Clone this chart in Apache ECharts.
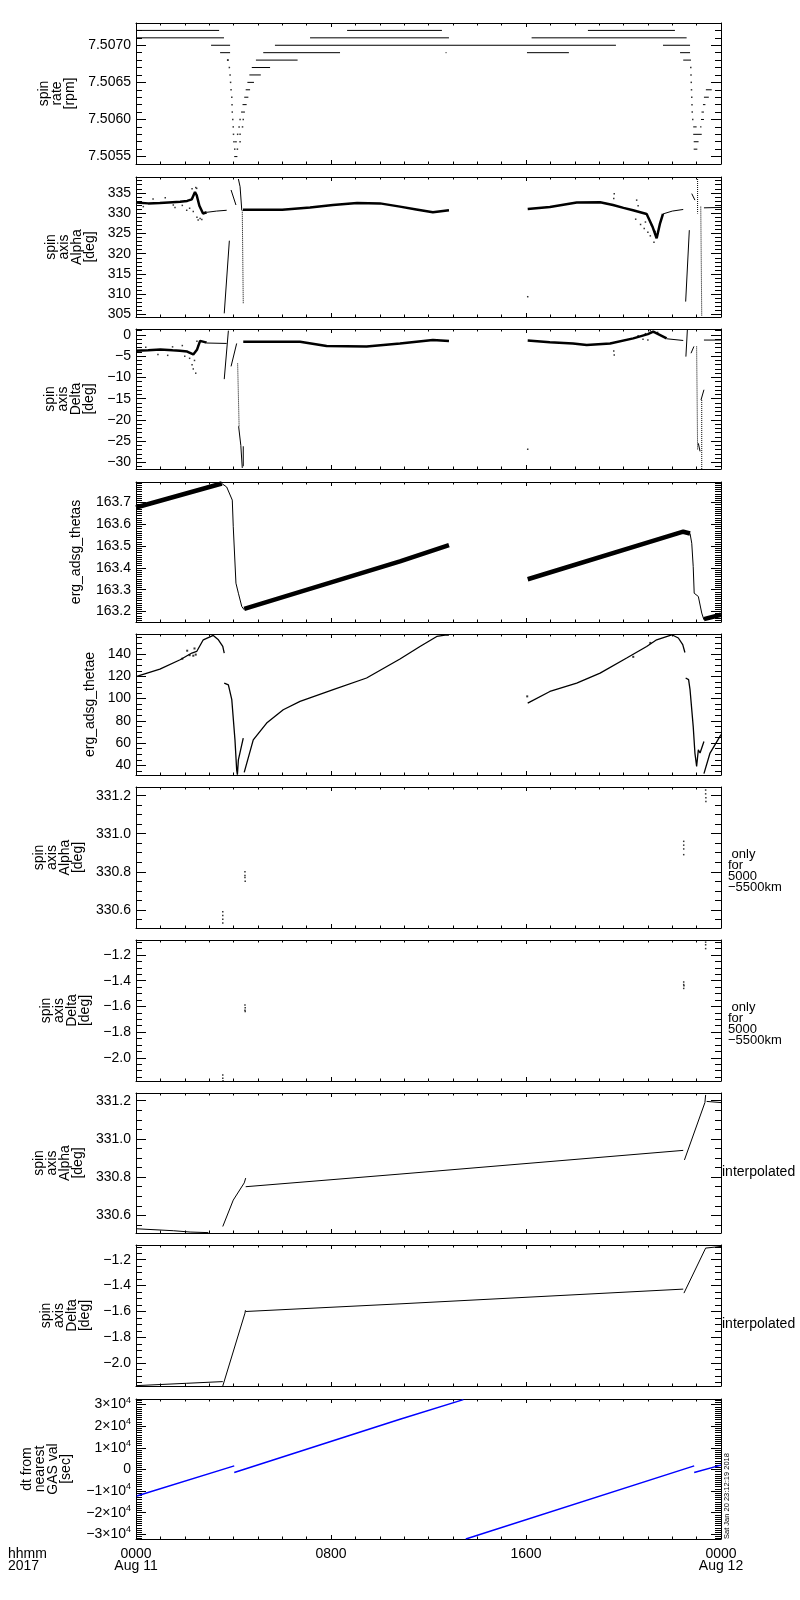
<!DOCTYPE html>
<html>
<head>
<meta charset="utf-8">
<script src="https://cdn.jsdelivr.net/npm/echarts@6/dist/echarts.min.js"></script>
<style>
  html, body { margin: 0; padding: 0; background: #fff; }
  #chart { width: 800px; height: 1600px; }
</style>
</head>
<body>
<div id="chart"></div>
<script>
var FONT = 'Liberation Sans';
var MINUS = '\u2212';

// all times are hours after 0000 Aug 11 2017

// panel 1: spin rate, runs of a constant value [rpm, from, to]
var rateRuns = [
    [7.5072, 0, 3.41], [7.5072, 8.66, 12.55], [7.5072, 18.54, 22.11],
    [7.5071, 0, 3.61], [7.5071, 7.14, 12.84], [7.5071, 16.23, 22.59],
    [7.5070, 3.08, 3.86], [7.5070, 5.70, 19.69], [7.5070, 21.62, 22.73],
    [7.5069, 3.45, 3.86], [7.5069, 5.22, 8.37], [7.5069, 12.70, 12.74], [7.5069, 16.04, 17.76], [7.5069, 22.32, 22.73],
    [7.5068, 3.73, 3.80], [7.5068, 4.92, 6.63], [7.5068, 22.45, 22.77],
    [7.5067, 4.75, 5.50],
    [7.5066, 4.65, 5.12],
    [7.5065, 4.57, 4.84],
    [7.5064, 4.50, 4.68], [7.5064, 23.38, 23.62],
    [7.5063, 4.44, 4.61], [7.5063, 23.30, 23.50],
    [7.5062, 4.37, 4.54], [7.5062, 23.26, 23.36],
    [7.5061, 4.31, 4.47], [7.5061, 23.20, 23.30],
    [7.5060, 23.18, 23.30],
    [7.5059, 22.86, 23.00], [7.5059, 23.14, 23.20],
    [7.5058, 22.86, 23.21],
    [7.5057, 22.88, 23.08],
    [7.5056, 22.88, 23.03],
    [7.5055, 4.03, 4.16]
];
var rateDots = [
    [3.77, 7.5068], [3.83, 7.5067], [3.86, 7.5066], [3.88, 7.5065], [3.90, 7.5064], [3.93, 7.5063],
    [3.94, 7.5062], [3.95, 7.5061], [3.97, 7.5060], [3.99, 7.5059], [4.00, 7.5058], [4.02, 7.5057], [4.05, 7.5056],
    [4.16, 7.5056], [4.10, 7.5057], [4.27, 7.5057], [4.17, 7.5058], [4.27, 7.5058], [4.23, 7.5059], [4.37, 7.5059],
    [4.27, 7.5060], [4.40, 7.5060],
    [22.76, 7.5067], [22.77, 7.5066], [22.78, 7.5065], [22.79, 7.5064], [22.80, 7.5063], [22.81, 7.5062],
    [22.82, 7.5061], [22.84, 7.5060]
];

// panel 2: spin axis Alpha [deg]
var alphaBand = [
    [[0, 332.6], [0.5, 332.4], [0.98, 332.5], [1.5, 332.7], [1.81, 332.8], [2.1, 333.0], [2.29, 333.4], [2.42, 335.2], [2.49, 334.4], [2.6, 331.8], [2.75, 329.9], [2.9, 330.2]],
    [[4.39, 330.8], [6.0, 330.8], [7.14, 331.4], [8.08, 332.0], [9.07, 332.5], [10.01, 332.4], [10.83, 331.6], [11.5, 330.9], [12.18, 330.2], [12.84, 330.7]],
    [[16.07, 331.0], [16.98, 331.5], [18.08, 332.6], [19.04, 332.7], [19.57, 332.0], [20.0, 331.3], [20.39, 330.7], [20.95, 329.8], [21.2, 326.5], [21.36, 323.8], [21.5, 327.5], [21.62, 329.8]]
];
var alphaThin = [
    [[2.9, 330.2], [3.3, 330.5], [3.72, 330.7]],
    [[3.62, 305.3], [3.83, 323.2]],
    [[3.90, 335.7], [4.10, 332.0]],
    [[4.20, 338.4], [4.27, 336.5], [4.34, 330.7]],
    [[21.62, 329.8], [22.0, 330.5], [22.45, 330.9]],
    [[22.55, 308.2], [22.70, 325.8]],
    [[22.80, 334.8], [22.93, 333.2]],
    [[23.30, 331.3], [24, 331.4]]
];
var alphaDotted = [
    [[4.36, 330.7], [4.40, 307.8]],
    [[23.04, 338.9], [23.04, 329.9]],
    [[23.17, 331.6], [23.21, 304.5]]
];
var alphaNoise = [
    [0.3, 331.6], [0.7, 333.5], [1.2, 333.8], [1.53, 332.0], [1.6, 331.4], [1.9, 331.9], [2.08, 330.7], [2.2, 331.2],
    [2.3, 336.0], [2.45, 336.3], [2.49, 336.1], [2.35, 330.4], [2.5, 329.0], [2.55, 328.3], [2.63, 328.7], [2.7, 328.4],
    [16.07, 309.4], [19.62, 334.8], [19.6, 333.6], [20.54, 333.2], [20.5, 328.5], [20.7, 327.2], [20.85, 326.2],
    [21.0, 325.3], [21.1, 324.4], [21.25, 322.8], [20.6, 331.8], [20.9, 327.8], [21.3, 325.5], [21.15, 327.0]
];

// panel 3: spin axis Delta [deg]
var deltaBand = [
    [[0, -3.7], [0.5, -3.6], [1.0, -3.4], [1.5, -3.6], [1.8, -3.7], [2.1, -3.9], [2.35, -4.6], [2.5, -3.5], [2.63, -1.4], [2.9, -1.8]],
    [[4.40, -1.6], [6.73, -1.6], [7.82, -2.6], [9.46, -2.7], [10.83, -2.0], [12.18, -1.2], [12.84, -1.4]],
    [[16.07, -1.3], [16.98, -1.7], [17.93, -2.0], [18.49, -2.35], [19.45, -2.0], [20.40, -0.8], [21.0, 0.2], [21.22, 0.8], [21.77, -0.8]]
];
var deltaThin = [
    [[2.9, -1.9], [3.72, -2.0]],
    [[3.62, -10.4], [3.79, 1.0]],
    [[3.90, -7.4], [4.13, -2.0]],
    [[4.21, -21.5], [4.30, -26.0], [4.36, -31.3]],
    [[4.40, -26.2], [4.40, -30.9]],
    [[21.77, -0.9], [22.45, -1.3]],
    [[22.56, -5.1], [22.62, 1.2]],
    [[22.77, -4.3], [22.89, -2.7]],
    [[23.07, -25.5], [23.14, -27.4]],
    [[23.18, -15.3], [23.30, -12.9]],
    [[23.30, -1.2], [24, -1.2]]
];
var deltaDotted = [
    [[4.17, -6.7], [4.23, -21.5]],
    [[23.00, -2.7], [23.04, -27.0]],
    [[23.21, -15.3], [23.21, -31.6]]
];
var deltaNoise = [
    [0.4, -2.9], [0.9, -4.6], [1.3, -4.8], [1.5, -2.8], [1.9, -2.5], [2.0, -5.0], [2.2, -5.5], [2.3, -7.0],
    [2.35, -8.0], [2.45, -9.0], [2.4, -6.0], [2.5, -1.5], [2.55, -2.6], [16.07, -26.9], [19.62, -4.7],
    [19.6, -3.8], [20.6, -0.2], [20.8, -1.0], [20.9, 0.3], [21.0, -1.2], [21.4, 0.6], [21.1, 1.0]
];

// panel 4: erg_adsg_thetas
var thetasBand = [
    [[0, 163.677], [3.52, 163.787]],
    [[4.44, 163.212], [10.83, 163.430], [12.84, 163.505]],
    [[16.07, 163.348], [22.45, 163.566], [22.73, 163.558]],
    [[23.30, 163.165], [24, 163.185]]
];
var thetasThin = [
    [[3.52, 163.787], [3.72, 163.771], [3.95, 163.711], [3.99, 163.589], [4.10, 163.330], [4.20, 163.284], [4.34, 163.223], [4.44, 163.208]],
    [[22.73, 163.558], [22.80, 163.513], [22.86, 163.406], [22.90, 163.284], [23.07, 163.269], [23.21, 163.193], [23.30, 163.162]]
];

// panel 5: erg_adsg_thetae
var thetaeLine = [
    [[0.03, 119.9], [0.98, 126.5], [1.81, 134.9], [2.29, 140.9], [2.49, 142.3], [2.76, 152.8], [3.17, 156.7], [3.38, 152.8], [3.56, 146.8], [3.62, 140.9]],
    [[3.62, 113.9], [3.79, 112.4], [3.93, 99.0], [4.06, 63.0], [4.13, 36.0], [4.16, 31.6], [4.20, 45.0], [4.27, 44.0], [4.40, 64.6]],
    [[4.44, 33.7], [4.81, 63.0], [5.36, 78.0], [6.04, 90.0], [6.73, 97.5], [8.09, 108.0], [9.46, 118.5], [10.83, 135.5], [11.65, 146.8], [12.34, 155.8], [12.75, 157.3], [12.84, 157.0]],
    [[16.07, 96.0], [16.98, 106.4], [18.08, 113.9], [19.04, 122.9], [20.13, 136.4], [20.95, 146.8], [21.36, 152.8], [21.98, 157.3], [22.25, 154.4], [22.43, 148.4], [22.52, 141.4]],
    [[22.55, 118.5], [22.67, 117.0], [22.73, 108.0], [22.86, 75.0], [22.93, 51.1], [23.00, 39.1], [23.07, 54.0], [23.14, 51.1], [23.30, 61.5]],
    [[23.30, 32.6], [23.55, 51.1], [24, 67.6]]
];
var thetaeNoise = [[1.9, 135.8], [2.1, 143.0], [2.2, 139.0], [2.35, 138.5], [2.4, 145.0], [2.45, 139.5], [16.05, 102.0], [20.4, 137.5], [21.1, 150.0]];

// panels 6-7: only for 5000-5500km
var alphaShell = [
    [3.56, 330.59], [3.56, 330.57], [3.56, 330.55], [3.56, 330.53],
    [4.47, 330.80], [4.47, 330.78], [4.47, 330.77], [4.48, 330.75],
    [22.47, 330.96], [22.47, 330.94], [22.47, 330.92], [22.47, 330.89],
    [23.37, 331.23], [23.37, 331.21], [23.38, 331.19], [23.38, 331.17]
];
var deltaShell = [
    [3.56, -2.135], [3.56, -2.16], [3.57, -2.18],
    [4.47, -1.59], [4.48, -1.61], [4.47, -1.63], [4.48, -1.64],
    [22.47, -1.41], [22.47, -1.43], [22.48, -1.44], [22.47, -1.46],
    [23.37, -1.10], [23.37, -1.12], [23.37, -1.15]
];

// panels 8-9: interpolated
var alphaIntp = [
    [[0.03, 330.530], [1.53, 330.520], [2.22, 330.513], [2.97, 330.510]],
    [[3.56, 330.542], [3.99, 330.680], [4.44, 330.770], [4.50, 330.795]],
    [[4.50, 330.750], [10.83, 330.816], [22.45, 330.940]],
    [[22.50, 330.890], [23.34, 331.190], [23.37, 331.230]],
    [[23.41, 331.196], [24, 331.190]]
];
var deltaIntp = [
    [[0.03, -2.173], [2.08, -2.155], [3.56, -2.142]],
    [[3.56, -2.176], [4.47, -1.613], [4.49, -1.590]],
    [[4.50, -1.600], [10.83, -1.541], [22.45, -1.427]],
    [[22.48, -1.458], [23.37, -1.110], [23.40, -1.100], [24, -1.097]]
];

// panel 10: dt from nearest GAS val [sec]
var dtGas = [
    [[0.03, -12320], [4.03, 1664]],
    [[4.03, -1382], [10.83, 23216], [13.43, 32300]],
    [[13.53, -32170], [22.90, 1664]],
    [[22.90, -1382], [24, 1989]]
];

// axes
var xTickHours = [0, 8, 16, 24];
var xTickText = ['0000\nAug 11', '0800', '1600', '0000\nAug 12'];

var yTitles = [
    'spin\nrate\n[rpm]', 'spin\naxis\nAlpha\n[deg]', 'spin\naxis\nDelta\n[deg]', 'erg_adsg_thetas', 'erg_adsg_thetae',
    'spin\naxis\nAlpha\n[deg]', 'spin\naxis\nDelta\n[deg]', 'spin\naxis\nAlpha\n[deg]', 'spin\naxis\nDelta\n[deg]',
    'dt from\nnearest\nGAS val\n[sec]'
];
var yRange = [
    [7.5054, 7.5073], [304.4, 338.9], [-31.55, 1.4], [163.152, 163.794], [31.4, 158],
    [330.504, 331.246], [-2.181, -1.083], [330.508, 331.24], [-2.176, -1.086], [-32170, 32585]
];
var yTicks = [
    [7.5055, 7.5060, 7.5065, 7.5070],
    [305, 310, 315, 320, 325, 330, 335],
    [-30, -25, -20, -15, -10, -5, 0],
    [163.2, 163.3, 163.4, 163.5, 163.6, 163.7],
    [40, 60, 80, 100, 120, 140],
    [330.6, 330.8, 331.0, 331.2],
    [-2.0, -1.8, -1.6, -1.4, -1.2],
    [330.6, 330.8, 331.0, 331.2],
    [-2.0, -1.8, -1.6, -1.4, -1.2],
    [-30000, -20000, -10000, 0, 10000, 20000, 30000]
];
var yMinorStep = [0.0001, 1, 1, 0.01, 5, 0.05, 0.05, 0.05, 0.05, 1000];
var yDecimals = [4, 0, 0, 1, 0, 1, 1, 1, 1, 0];

// layout
var panelTop = [23, 177, 329, 482, 634, 787, 940, 1093, 1245, 1399];
var panelBottom = [164, 317, 469, 622, 775, 928, 1081, 1233, 1386, 1539];
var titleGap = [58, 39, 39, 53, 39, 51, 44, 51, 44, 63];

function minorValues(i) {
    var step = yMinorStep[i], out = [];
    var k0 = Math.ceil(yRange[i][0] / step - 1e-6), k1 = Math.floor(yRange[i][1] / step + 1e-6);
    for (var k = k0; k <= k1; k++) {
        out.push(+(k * step).toFixed(6));
    }
    return out;
}

function yLabel(i) {
    return function (v) {
        if (i === 9) {
            if (Math.abs(v) < 1) return '0';
            var m = Math.round(v / 1e4);
            return (m < 0 ? MINUS : '') + Math.abs(m) + '\u00d710{sup|4}';
        }
        var s = Math.abs(v).toFixed(yDecimals[i]);
        return (v < 0 ? MINUS : '') + s;
    };
}

function joinPaths(paths) {
    var out = [];
    paths.forEach(function (p) {
        p.forEach(function (pt) { out.push(pt); });
        out.push([p[p.length - 1][0], '-']);
    });
    return out;
}

function runsToPaths(runs) {
    return runs.map(function (r) { return [[r[1], r[0]], [r[2], r[0]]]; });
}

function lineSeries(i, paths, width, color, dash) {
    return {
        type: 'line', xAxisIndex: i * 2, yAxisIndex: i * 4,
        data: joinPaths(paths), symbol: 'none', showSymbol: false, connectNulls: false,
        lineStyle: { color: color || '#000', width: width, type: dash || 'solid' },
        silent: true, animation: false
    };
}

function dotSeries(i, pts, size) {
    return {
        type: 'scatter', xAxisIndex: i * 2, yAxisIndex: i * 4,
        data: pts, symbol: 'rect', symbolSize: size || 2,
        itemStyle: { color: '#000' }, silent: true, animation: false
    };
}

var option = {
    animation: false,
    backgroundColor: '#fff',
    textStyle: { fontFamily: FONT, color: '#000' },
    grid: [], xAxis: [], yAxis: [], series: [], graphic: []
};

var black = { color: '#000', width: 1 };

for (var i = 0; i < 10; i++) {
    option.grid.push({
        left: 136, right: 79, top: panelTop[i], height: panelBottom[i] - panelTop[i],
        containLabel: false, outerBoundsMode: 'none'
    });

    ['bottom', 'top'].forEach(function (pos) {
        option.xAxis.push({
            type: 'value', gridIndex: i, position: pos, min: 0, max: 24, interval: 8,
            axisLine: { show: true, onZero: false, lineStyle: black },
            axisTick: { show: true, inside: true, length: 4, lineStyle: black },
            minorTick: { show: true, splitNumber: 8, length: 2.5, lineStyle: black },
            splitLine: { show: false }, minorSplitLine: { show: false },
            axisLabel: {
                show: i === 9 && pos === 'bottom', color: '#000', fontFamily: FONT,
                fontSize: 14, lineHeight: 12, margin: 9,
                formatter: function (v) { return xTickText[xTickHours.indexOf(v)] || ''; }
            }
        });
    });

    var minors = minorValues(i);
    ['left', 'right'].forEach(function (pos) {
        option.yAxis.push({
            type: 'value', gridIndex: i, position: pos, min: yRange[i][0], max: yRange[i][1],
            name: pos === 'left' ? yTitles[i] : '',
            nameLocation: 'middle', nameRotate: 90, nameGap: titleGap[i],
            nameTextStyle: { color: '#000', fontFamily: FONT, fontSize: 14, lineHeight: 13 },
            axisLine: { show: true, onZero: false, lineStyle: black },
            axisTick: { show: true, inside: true, length: 10, lineStyle: black, customValues: yTicks[i] },
            splitLine: { show: false },
            axisLabel: {
                show: pos === 'left', customValues: yTicks[i], formatter: yLabel(i),
                color: '#000', fontFamily: FONT, fontSize: 14, margin: 5,
                rich: { sup: { fontSize: 9, fontFamily: FONT, color: '#000', padding: [0, 0, 9, 0] } }
            }
        });
        option.yAxis.push({
            type: 'value', gridIndex: i, position: pos, min: yRange[i][0], max: yRange[i][1],
            axisLine: { show: false, onZero: false },
            axisTick: { show: true, inside: true, length: 6, lineStyle: black, customValues: minors },
            splitLine: { show: false },
            axisLabel: { show: false }
        });
    });
}

// panel 1
option.series.push(lineSeries(0, runsToPaths(rateRuns), 1));
option.series.push(dotSeries(0, rateDots, 1.5));
// panel 2
option.series.push(lineSeries(1, alphaBand, 2.5));
option.series.push(lineSeries(1, alphaThin, 1));
option.series.push(lineSeries(1, alphaDotted, 1, '#000', 'dotted'));
option.series.push(dotSeries(1, alphaNoise, 1.5));
// panel 3
option.series.push(lineSeries(2, deltaBand, 2.5));
option.series.push(lineSeries(2, deltaThin, 1));
option.series.push(lineSeries(2, deltaDotted, 1, '#000', 'dotted'));
option.series.push(dotSeries(2, deltaNoise, 1.5));
// panel 4
option.series.push(lineSeries(3, thetasBand, 4.5));
option.series.push(lineSeries(3, thetasThin, 1));
// panel 5
option.series.push(lineSeries(4, thetaeLine, 1.3));
option.series.push(dotSeries(4, thetaeNoise, 2));
// panels 6-7
option.series.push(dotSeries(5, alphaShell, 1.5));
option.series.push(dotSeries(6, deltaShell, 1.5));
// panels 8-9
option.series.push(lineSeries(7, alphaIntp, 1));
option.series.push(lineSeries(8, deltaIntp, 1));
// panel 10
option.series.push(lineSeries(9, dtGas, 1.5, '#0000ff'));

var noteFont = '13px ' + FONT;
option.graphic = [
    { type: 'text', x: 728, y: 849, style: { text: ' only\nfor\n5000\n' + MINUS + '5500km', font: noteFont, lineHeight: 11, fill: '#000' } },
    { type: 'text', x: 728, y: 1002, style: { text: ' only\nfor\n5000\n' + MINUS + '5500km', font: noteFont, lineHeight: 11, fill: '#000' } },
    { type: 'text', x: 722, y: 1172, style: { text: 'interpolated', font: '14px ' + FONT, fill: '#000', verticalAlign: 'middle' } },
    { type: 'text', x: 722, y: 1324, style: { text: 'interpolated', font: '14px ' + FONT, fill: '#000', verticalAlign: 'middle' } },
    { type: 'text', x: 8, y: 1548, style: { text: 'hhmm\n2017', font: '14px ' + FONT, lineHeight: 12, fill: '#000' } },
    { type: 'text', x: 727, y: 1539, rotation: Math.PI / 2, style: { text: 'Sat Jan 20 23:12:19 2018', font: '7.5px ' + FONT, fill: '#000', align: 'left', verticalAlign: 'middle' } }
];

var chart = echarts.init(document.getElementById('chart'), null, { renderer: 'canvas' });
chart.setOption(option);
</script>
</body>
</html>
